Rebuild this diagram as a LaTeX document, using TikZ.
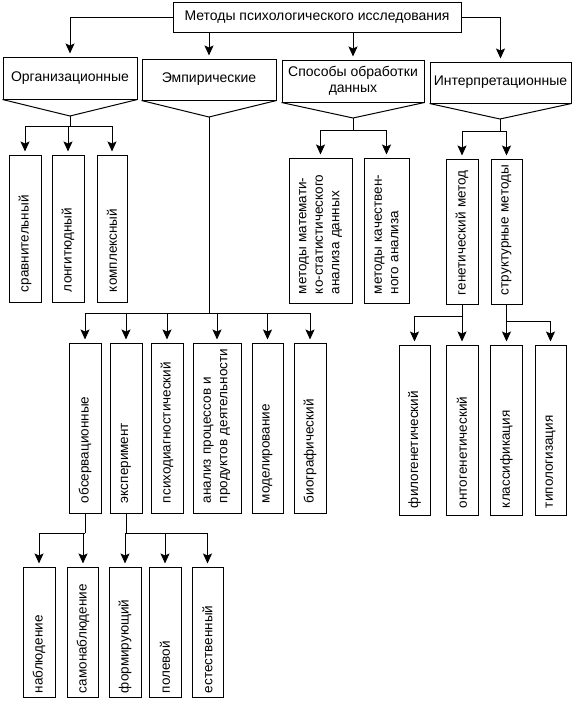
\documentclass[tikz,border=0pt]{standalone}
\usepackage{fontspec}
\setmainfont{Liberation Sans}
\usetikzlibrary{arrows.meta}

\begin{document}
\begin{tikzpicture}[x=1pt,y=-1pt,
	every node/.style={font=\fontsize{14}{16.5}\selectfont},
	hbx/.style={draw,line width=1pt,align=center,inner sep=0pt},
	vbx/.style n args={3}{draw,line width=1pt,rotate=90,align=left,inner ysep=0pt,
		font=\fontsize{13.5}{16.5}\selectfont,
		minimum height=#1pt,text width=#2pt,inner xsep=#3pt},
	ln/.style={line width=1pt},
	arr/.style={line width=1pt,shorten >=3pt,-{Stealth[length=10pt,width=9pt,inset=2pt]}}]
		\useasboundingbox (0,0) rectangle (578,705);

		\node[hbx,minimum width=288pt,minimum height=30pt] (top) at (317,17) {Методы психологического исследования};

		\node[hbx,minimum width=134pt,minimum height=42pt] (org) at (70,78) {Организационные};
		\node[hbx,minimum width=134pt,minimum height=41pt] (emp) at (209,79.5) {Эмпирические};
		\node[hbx,minimum width=142pt,minimum height=42pt] (spos) at (353,81) {Способы обработки\\данных};
		\node[hbx,minimum width=141pt,minimum height=41pt] (interp) at (500.5,82.5) {Интерпретационные};

		\draw[arr] (top.west) -| (org.north);
		\draw[arr] (top.east) -| (interp.north);
		\draw[arr] (top.south -| emp.north) -- (emp.north);
		\draw[arr] (top.south -| spos.north) -- (spos.north);

		\coordinate (orgv) at (70,116);
		\coordinate (empv) at (209,117);
		\coordinate (sposv) at (353,118);
		\coordinate (interpv) at (500,119);
		\draw[ln] (org.south west) -- (orgv) -- (org.south east);
		\draw[ln] (emp.south west) -- (empv) -- (emp.south east);
		\draw[ln] (spos.south west) -- (sposv) -- (spos.south east);
		\draw[ln] (interp.south west) -- (interpv) -- (interp.south east);

		% organizational
		\node[vbx={32}{127}{10}] (srav) at (25,228.5) {сравнительный};
		\node[vbx={32}{127}{10}] (longit) at (68,228.5) {лонгитюдный};
		\node[vbx={30}{127}{10}] (kompl) at (112,228.5) {комплексный};
		\coordinate (orgj) at (70,126);
		\draw[ln] (orgv) -- (orgj);
		\foreach \n in {srav,longit,kompl}
			\draw[arr] (orgj) -| (\n.east);

		% data processing
		\node[vbx={63}{127}{9}] (matem) at (320.5,230.5) {методы~математи-\\ко-статистического\\анализа~данных};
		\node[vbx={45}{127}{9}] (kach) at (386.5,230.5) {методы~качествен-\\ного~анализа};
		\coordinate (sposj) at (353,130);
		\draw[ln] (sposv) -- (sposj);
		\foreach \n in {matem,kach}
			\draw[arr] (sposj) -| (\n.east);

		% interpretation
		\node[vbx={32}{127}{9}] (gen) at (462,231.5) {генетический~метод};
		\node[vbx={31}{127}{9}] (struk) at (506.5,231.5) {структурные~методы};
		\coordinate (interpj) at (500,131);
		\draw[ln] (interpv) -- (interpj);
		\foreach \n in {gen,struk}
			\draw[arr] (interpj) -| (\n.east);

		\node[vbx={31}{156}{7}] (filo) at (414.5,430) {филогенетический};
		\node[vbx={32}{156}{7}] (onto) at (462,430) {онтогенетический};
		\node[vbx={32}{156}{7}] (klass) at (506.5,430) {классификация};
		\node[vbx={31}{156}{7}] (tipol) at (550.5,430) {типологизация};
		\coordinate (genj) at (462,316);
		\coordinate (strukj) at (506.5,321);
		\draw[ln] (gen.west) -- (genj);
		\draw[ln] (struk.west) -- (strukj);
		\foreach \n in {filo,onto}
			\draw[arr] (genj) -| (\n.east);
		\foreach \n in {klass,tipol}
			\draw[arr] (strukj) -| (\n.east);

		% empirical
		\node[vbx={32}{150}{10}] (obs) at (85,428) {обсервационные};
		\node[vbx={32}{150}{10}] (eksp) at (126,428) {эксперимент};
		\node[vbx={32}{150}{10}] (psy) at (167,428) {психодиагностический};
		\node[vbx={48}{150}{10}] (anal) at (217,428) {анализ~процессов~и\\продуктов~деятельности};
		\node[vbx={31}{150}{10}] (model) at (267.5,428) {моделирование};
		\node[vbx={32}{150}{10}] (bio) at (310,428) {биографический};
		\coordinate (empj) at (209,313);
		\draw[ln] (empv) -- (empj);
		\foreach \n in {obs,eksp,psy,anal,model,bio}
			\draw[arr] (empj) -| (\n.east);

		\node[vbx={32}{122}{4}] (nabl) at (39,632) {наблюдение};
		\node[vbx={31}{122}{4}] (samo) at (83,632) {самонаблюдение};
		\node[vbx={32}{122}{4}] (form) at (125,632) {формирующий};
		\node[vbx={32}{122}{4}] (polev) at (165,632) {полевой};
		\node[vbx={31}{122}{4}] (estest) at (207.5,632) {естественный};
		\coordinate (obsj) at (85,533);
		\coordinate (ekspj) at (126,533);
		\draw[ln] (obs.west) -- (obsj);
		\draw[ln] (eksp.west) -- (ekspj);
		\foreach \n in {nabl,samo}
			\draw[arr] (obsj) -| (\n.east);
		\foreach \n in {form,polev,estest}
			\draw[arr] (ekspj) -| (\n.east);
\end{tikzpicture}
\end{document}
